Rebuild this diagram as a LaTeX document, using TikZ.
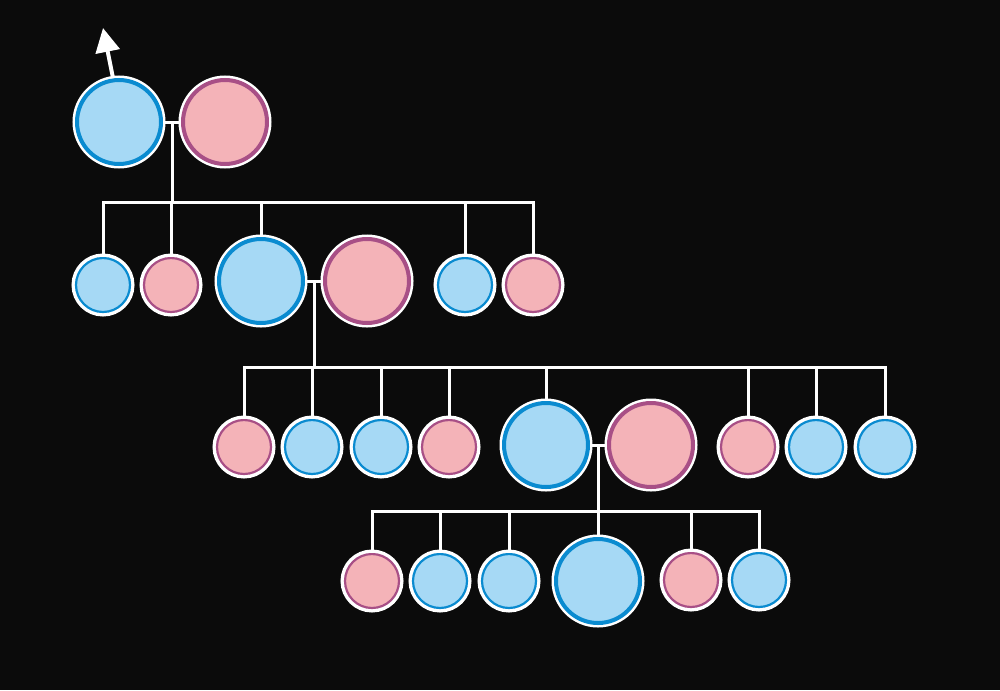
\documentclass[tikz,border=0pt]{standalone}
\usetikzlibrary{arrows.meta}
\definecolor{bg}{HTML}{0B0B0B}
\definecolor{mfill}{HTML}{A6D9F5}
\definecolor{mline}{HTML}{0A8BD0}
\definecolor{ffill}{HTML}{F4B3B8}
\definecolor{fline}{HTML}{A84F86}
\tikzset{
  person/.style={circle,inner sep=0pt,preaction={draw=white,line width=0.9mm}},
  big/.style={person,minimum size=8.4mm,line width=0.4mm},
  small/.style={person,minimum size=5.4mm,line width=0.22mm,preaction={draw=white,line width=0.65mm}},
  male/.style={fill=mfill,draw=mline},
  female/.style={fill=ffill,draw=fline},
  link/.style={draw=white,line width=0.3mm}
}
\begin{document}
\begin{tikzpicture}[x=1mm,y=-1mm]
        \fill[bg] (0,0) rectangle (100,69);
        % generation 0
        \node[big,male] (g0m) at (11.9,12.2) {};
        \node[big,female] (g0f) at (22.5,12.2) {};
        \draw[white,line width=0.4mm,-{Triangle[length=2.4mm,width=2.4mm]}] (g0m.north) ++(-0.6,0) coordinate (arrstart) -- (10.3,2.8);
        \draw[link] (g0m.east) -- (g0f.west);
        \coordinate (c0) at (17.2,12.2);
        \coordinate (bar0) at (17.2,20.2);
        % generation 1
        \node[small,male] (a1) at (10.3,28.5) {};
        \node[small,female] (a2) at (17.1,28.5) {};
        \node[big,male] (g1m) at (26.1,28.1) {};
        \node[big,female] (g1f) at (36.7,28.1) {};
        \node[small,male] (a5) at (46.5,28.5) {};
        \node[small,female] (a6) at (53.3,28.5) {};
        \draw[link] (c0) -- (bar0);
        \draw[link] (bar0) -| (a1.north);
        \draw[link] (bar0) -| (a6.north);
        \foreach \n in {a2,g1m,a5} \draw[link] (bar0 -| \n.north) -- (\n.north);
        \draw[link] (g1m.east) -- (g1f.west);
        \coordinate (c1) at (31.4,28.1);
        \coordinate (bar1) at (31.4,36.7);
        % generation 2
        \node[small,female] (b1) at (24.4,44.7) {};
        \node[small,male] (b2) at (31.2,44.7) {};
        \node[small,male] (b3) at (38.1,44.7) {};
        \node[small,female] (b4) at (44.9,44.7) {};
        \node[big,male] (g2m) at (54.6,44.5) {};
        \node[big,female] (g2f) at (65.1,44.5) {};
        \node[small,female] (b7) at (74.8,44.7) {};
        \node[small,male] (b8) at (81.6,44.7) {};
        \node[small,male] (b9) at (88.5,44.7) {};
        \draw[link] (c1) -- (bar1);
        \draw[link] (bar1) -| (b1.north);
        \draw[link] (bar1) -| (b9.north);
        \foreach \n in {b2,b3,b4,g2m,b7,b8} \draw[link] (bar1 -| \n.north) -- (\n.north);
        \draw[link] (g2m.east) -- (g2f.west);
        \coordinate (c2) at (59.8,44.5);
        \coordinate (bar2) at (59.8,51.1);
        % generation 3
        \node[small,female] (d1) at (37.2,58.1) {};
        \node[small,male] (d2) at (44.0,58.1) {};
        \node[small,male] (d3) at (50.9,58.1) {};
        \node[big,male] (d4) at (59.8,58.1) {};
        \node[small,female] (d5) at (69.1,58.0) {};
        \node[small,male] (d6) at (75.9,58.0) {};
        \draw[link] (c2) -- (bar2);
        \draw[link] (bar2) -| (d1.north);
        \draw[link] (bar2) -| (d6.north);
        \foreach \n in {d2,d3,d4,d5} \draw[link] (bar2 -| \n.north) -- (\n.north);
\end{tikzpicture}
\end{document}
